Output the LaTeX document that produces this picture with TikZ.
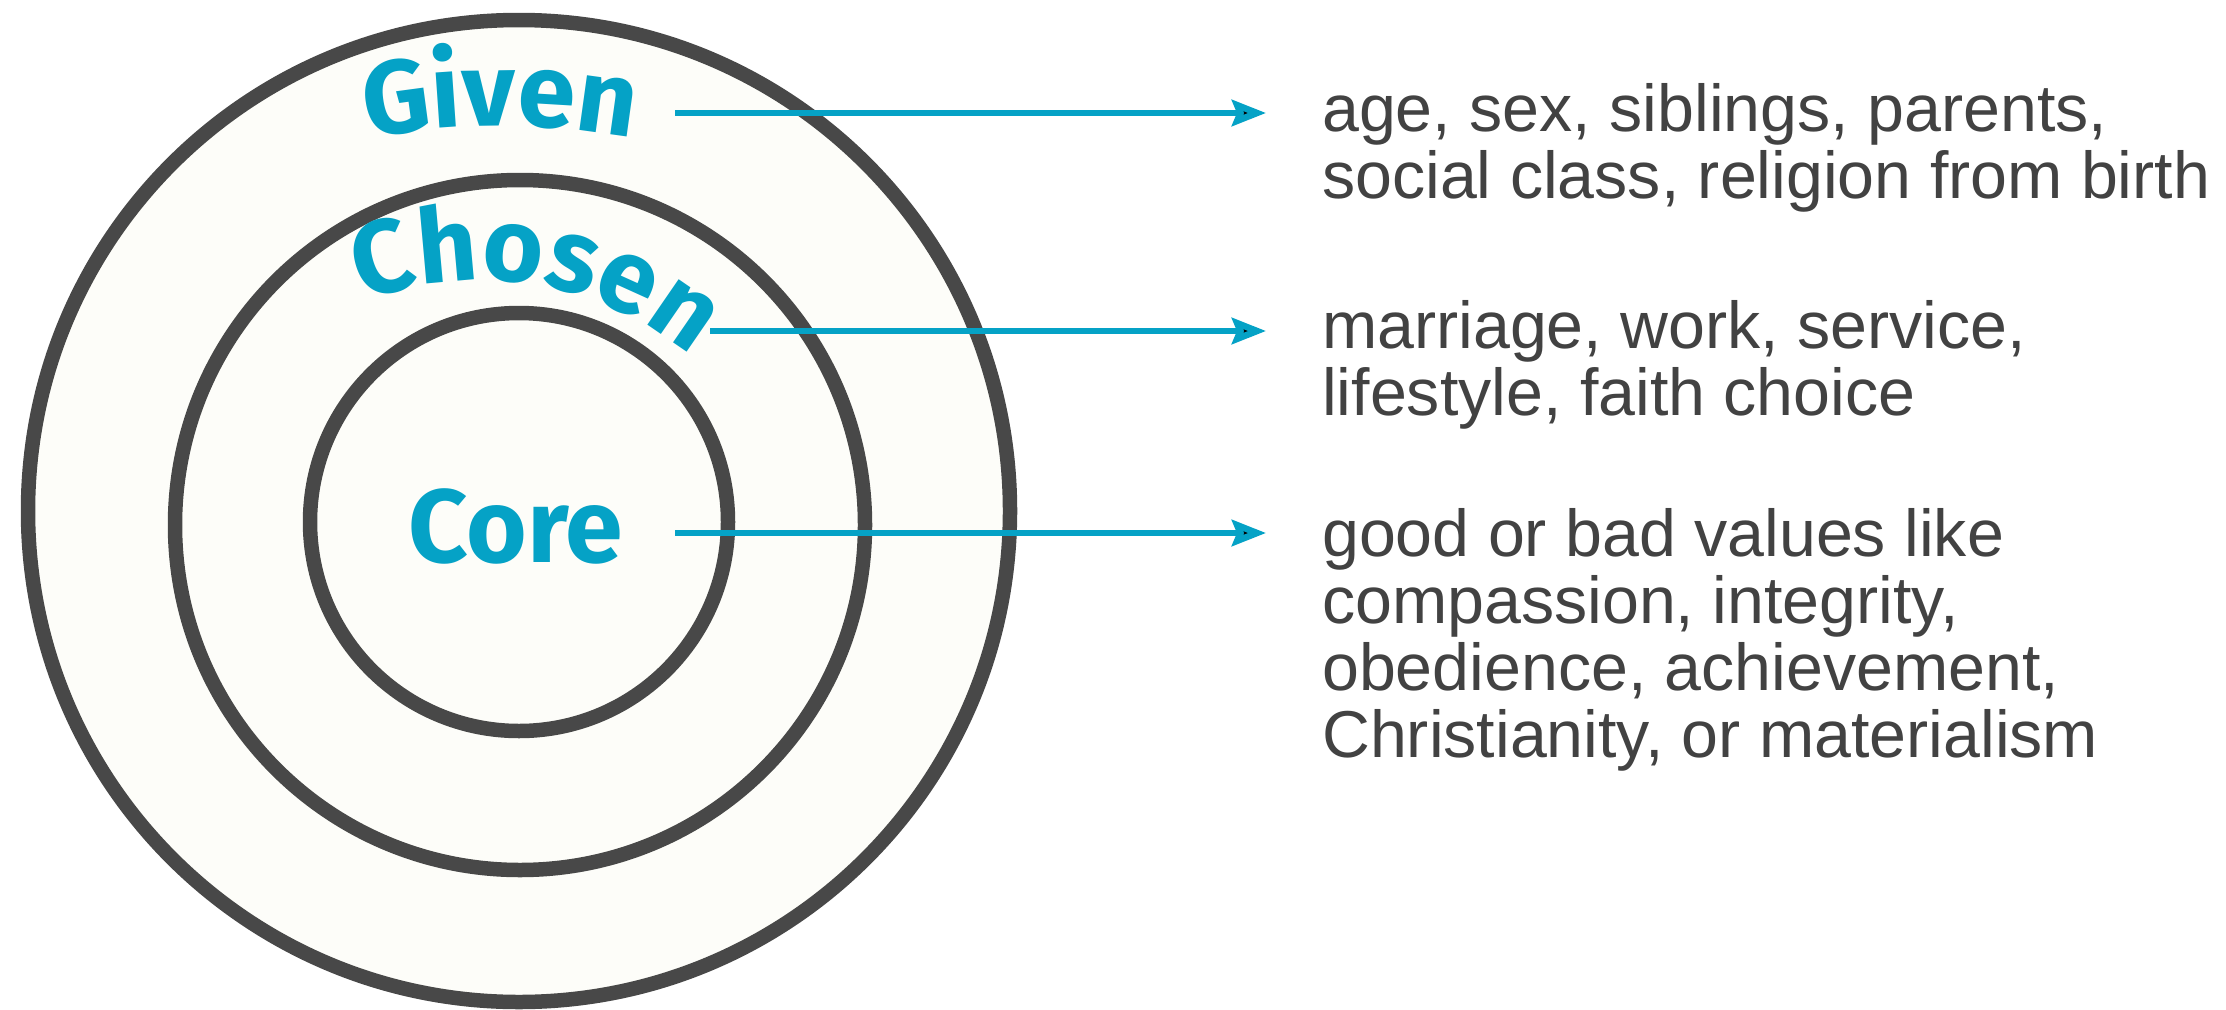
\documentclass[tikz,border=0pt]{standalone}
\usepackage{fontspec}
\setmainfont{Liberation Sans}
\newfontfamily\lblfont{Fira Sans}
\usetikzlibrary{arrows.meta,decorations.text}
\definecolor{ringgray}{RGB}{72,72,72}
\definecolor{ringfill}{RGB}{253,253,249}
\definecolor{tealc}{RGB}{5,162,198}
\definecolor{txtgray}{RGB}{66,66,66}
\newcommand\lblstyle{\lblfont\bfseries\fontsize{104}{104}\selectfont}
\begin{document}
\begin{tikzpicture}[x=1pt,y=1pt,
  ring/.style={circle, draw=ringgray, line width=14.5pt, fill=ringfill, inner sep=0pt},
  arr/.style={draw=tealc, line width=6.5pt, -{Stealth[length=34pt,width=26pt,inset=5pt]}},
  desc/.style={anchor=base west, inner sep=0pt, text=txtgray, font=\fontsize{66.3}{67}\selectfont}]
\useasboundingbox (0,0) rectangle (2226,-1009);
\fill[white] (0,0) rectangle (2226,-1009);
% rings
\node[ring, minimum size=982pt] (outer) at (519,-511) {};
\node[ring, minimum size=690pt] (middle) at (520,-525) {};
\node[ring, minimum size=418pt] (inner) at (519,-522) {};
% labels
\path[decorate, decoration={text along path, text={|\lblstyle|Given}, text align=center, text color=tealc}]
  (500,-876) ++(100.5:750) arc[start angle=100.5, end angle=79.5, radius=750];
\path[decorate, decoration={text along path, text={|\lblstyle|Chosen}, text align=center, text color=tealc}]
  (480,-610) ++(111:330) arc[start angle=111, end angle=50, radius=330];
\node[text=tealc, font=\lblstyle, anchor=base, inner sep=0pt] (core) at (516,-562) {Core};
% descriptions
\node[desc] (g1) at (1322,-131) {age, sex, siblings, parents,};
\node[desc] (g2) at (1322,-198) {social class, religion from birth};
\node[desc] (c1) at (1322,-348) {marriage, work, service,};
\node[desc] (c2) at (1322,-415) {lifestyle, faith choice};
\node[desc] (k1) at (1322,-556) {good or bad values like};
\node[desc] (k2) at (1322,-623) {compassion, integrity,};
\node[desc] (k3) at (1322,-690) {obedience, achievement,};
\node[desc] (k4) at (1322,-757) {Christianity, or materialism};
% arrows
\coordinate (gs) at (675,-113);
\coordinate (ge) at (1266,-113);
\coordinate (cs) at (710,-331);
\coordinate (ce) at (1266,-331);
\coordinate (ks) at (675,-533);
\coordinate (ke) at (1266,-533);
\draw[arr] (gs) -- (ge);
\draw[arr] (cs) -- (ce);
\draw[arr] (ks) -- (ke);
\end{tikzpicture}
\end{document}
